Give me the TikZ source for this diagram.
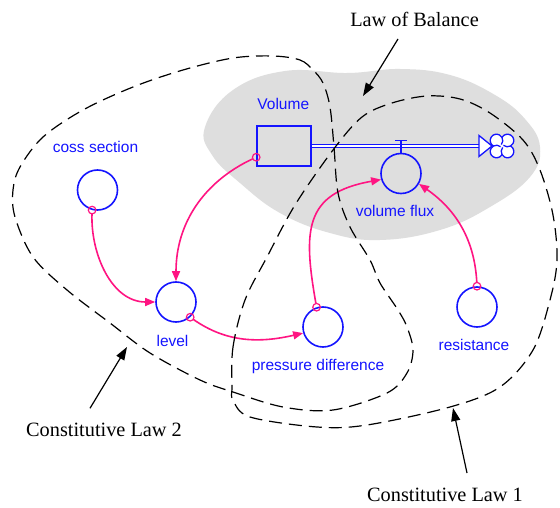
\documentclass[tikz,border=0pt]{standalone}
\usepackage{fontspec}
\setmainfont{Liberation Serif}
\newfontfamily\arialfont{Liberation Sans}
\usetikzlibrary{arrows.meta,calc}
\definecolor{vblue}{RGB}{20,20,255}
\definecolor{vpink}{RGB}{255,20,130}
\definecolor{blobgray}{RGB}{222,222,222}
\begin{document}
\begin{tikzpicture}[x=1pt,y=1pt,
  auxvar/.style={circle,draw=vblue,line width=1.6pt,minimum size=40pt,inner sep=0pt},
  stockbox/.style={rectangle,draw=vblue,line width=1.6pt,minimum width=54pt,minimum height=40pt,inner sep=0pt},
  varlabel/.style={anchor=base,text=vblue,font=\arialfont\fontsize{15.5}{18}\selectfont,inner sep=0pt},
  lawlabel/.style={anchor=base,font=\fontsize{20.3}{24}\selectfont,inner sep=0pt},
  linkarrow/.style={draw=vpink,line width=1.6pt,-{Triangle[length=10pt,width=8pt]},shorten <=3.8pt},
  tailmark/.style={circle,draw=vpink,line width=1.2pt,minimum size=7.6pt,inner sep=0pt},
  lawzone/.style={draw=black,line width=1.2pt,dash pattern=on 13pt off 7pt},
  lawarrow/.style={draw=black,line width=1.2pt,-{Triangle[length=13pt,width=9pt]}}
]
\useasboundingbox (0,0) rectangle (560,507);
\fill[white] (0,0) rectangle (560,507);

% shaded region of the balance law
\fill[blobgray] plot[smooth cycle, tension=0.7] coordinates {
  (205,380) (233,417) (285,436) (348,434) (400,438)
  (450,432) (495,412) (525,388) (540,360) (530,330) (490,300)
  (440,277) (380,267) (330,274) (280,294) (240,324) (212,352)};

% stock, flow and auxiliaries
\node[stockbox] (vol) at (284,361) {};
\node[auxvar] (cs)  at (97.5,317) {};
\node[auxvar] (lvl) at (176,205) {};
\node[auxvar] (pd)  at (323,180) {};
\node[auxvar] (res) at (477,200) {};
\node[auxvar] (vf)  at (401,333.5) {};

\coordinate (outlet) at (479,361);
\draw[vblue,line width=1.2pt,double=white,double distance=2.4pt] (vol.east) -- (outlet);
\draw[vblue,line width=1.3pt,fill=white] (outlet) ++(0,10.5) -- ++(13,-10.5) -- ++(-13,-10.5) -- cycle;
% cloud (sink): scalloped outline with inner curls
\coordinate (sink) at (502,361);
\begin{scope}[shift={(sink)},vblue,line width=1.3pt]
  \filldraw[fill=white] (0,8.57)
    arc[start angle=150.8,end angle=-60.8,radius=6.3]
    arc[start angle=60.8,end angle=-150.8,radius=6.3]
    arc[start angle=-29.2,end angle=-240.8,radius=6.3]
    arc[start angle=-119.2,end angle=-330.8,radius=6.3] -- cycle;
  \draw (5.5,5.5)  ++(-60.8:6.3) arc[start angle=-60.8,end angle=-130,radius=6.3];
  \draw (5.5,-5.5) ++(-150.8:6.3) arc[start angle=-150.8,end angle=-220,radius=6.3];
  \draw (-5.5,-5.5) ++(119.2:6.3) arc[start angle=119.2,end angle=50,radius=6.3];
  \draw (-5.5,5.5) ++(29.2:6.3) arc[start angle=29.2,end angle=-40,radius=6.3];
\end{scope}
% valve
\draw[vblue,line width=1.4pt] (vf.north) -- ++(0,12) coordinate (vtop);
\draw[vblue,line width=1.4pt] ($(vtop)+(-5.8,0)$) -- ($(vtop)+(5.8,0)$);

% information links
\draw[linkarrow] (cs.-105) to[out=-92,in=180] (lvl.west);
\draw[linkarrow] (vol.202) to[out=205,in=90] (lvl.north);
\draw[linkarrow] (lvl.-47) to[out=-35,in=193] (pd.197);
\draw[linkarrow] (pd.108) to[out=100,in=190,looseness=1.4] (vf.197);
\draw[linkarrow] (res.90) to[out=93,in=-35] (vf.-30);
\node[tailmark] (t1) at (cs.-105) {};
\node[tailmark] (t2) at (vol.202) {};
\node[tailmark] (t3) at (lvl.-47) {};
\node[tailmark] (t4) at (pd.108) {};
\node[tailmark] (t5) at (res.90) {};

% regions of the constitutive laws
\draw[lawzone] plot[smooth cycle, tension=0.55] coordinates {
  (273,451) (300,447) (313,437) (323,424) (330,400) (334,360) (338,314)
  (350,280) (370,247) (380,224) (398,197) (407,180) (413,157) (407,134)
  (387,114) (333,97) (283,100) (233,115) (200,127) (150,154) (110,184)
  (67,217) (33,250) (15,290) (13,317) (20,340) (43,370) (83,397)
  (133,420) (183,437) (233,449)};
\draw[lawzone] plot[smooth cycle, tension=0.55] coordinates {
  (232,120) (233,160) (245,207) (267,250) (295,302) (333,357) (362,390)
  (392,404) (427,411) (460,408) (490,394) (523,367) (540,337) (553,292)
  (557,247) (550,207) (533,157) (500,120) (450,100) (367,82) (317,80)
  (250,90) (233,107)};

% variable names
\node[varlabel] (lvol) at (283.3,397) {Volume};
\node[varlabel] (lcs)  at (95.5,354.7) {coss section};
\node[varlabel] (llvl) at (172.5,160.3) {level};
\node[varlabel] (lpd)  at (318,137) {pressure difference};
\node[varlabel] (lres) at (474,156.3) {resistance};
\node[varlabel] (lvf)  at (395,290.3) {volume flux};

% law annotations
\node[lawlabel] (lob)  at (414.5,480) {Law of Balance};
\node[lawlabel] (law2) at (104,71) {Constitutive Law 2};
\node[lawlabel] (law1) at (445,5.3) {Constitutive Law 1};
\coordinate (lobtip) at (363,411);
\coordinate (law2tip) at (127,160);
\coordinate (law1tip) at (453,99);
\draw[lawarrow] ($(lob.base)+(-16.5,-12)$) -- (lobtip);
\draw[lawarrow] ($(law2.base)+(-14,27.7)$) -- (law2tip);
\draw[lawarrow] ($(law1.base)+(22,28.7)$) -- (law1tip);
\end{tikzpicture}
\end{document}
